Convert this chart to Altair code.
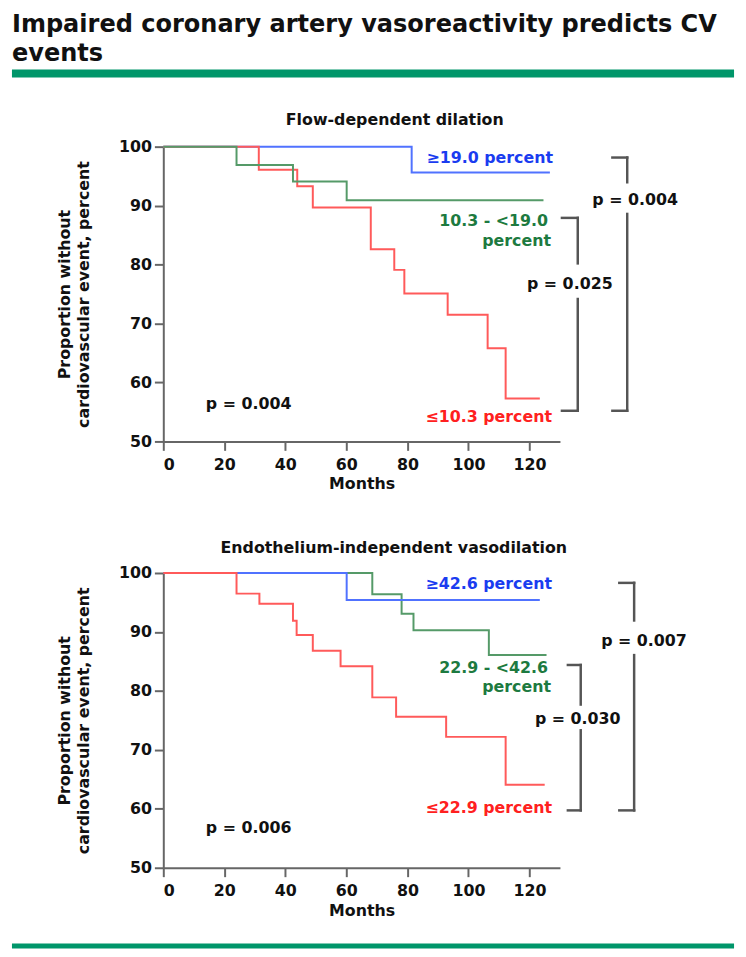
import altair as alt
import pandas as pd

# ---------------- data ----------------
MONTH_TICKS = [0, 20, 40, 60, 80, 100, 120]
PCT_TICKS = [50, 60, 70, 80, 90, 100]

GROUPS_FDD = ["≥19.0 percent", "10.3 - <19.0 percent", "≤10.3 percent"]
GROUPS_EIV = ["≥42.6 percent", "22.9 - <42.6 percent", "≤22.9 percent"]

# Flow-dependent dilation
FDD_HIGH_T = [0, 81.4, 126.7]
FDD_HIGH_S = [100, 95.6, 95.6]
FDD_MID_T = [0, 24.0, 42.5, 60.1, 124.6]
FDD_MID_S = [100, 96.9, 94.1, 90.9, 90.9]
FDD_LOW_T = [0, 31.3, 43.9, 49.0, 68.0, 75.7, 79.0, 93.2, 106.3, 112.2, 123.4]
FDD_LOW_S = [100, 96.1, 93.3, 89.7, 82.6, 79.1, 75.1, 71.5, 65.8, 57.3, 57.3]

# Endothelium-independent vasodilation
EIV_HIGH_T = [0, 60.1, 123.4]
EIV_HIGH_S = [100, 95.4, 95.4]
EIV_MID_T = [0, 68.5, 78.1, 82.0, 106.7, 125.6]
EIV_MID_S = [100, 96.4, 93.1, 90.3, 86.1, 86.1]
EIV_LOW_T = [0, 24.0, 31.5, 42.5, 43.7, 49.0, 58.1, 68.5, 76.3, 92.7, 112.2, 125.0]
EIV_LOW_S = [100, 96.5, 94.8, 91.9, 89.5, 86.8, 84.2, 78.9, 75.6, 72.2, 64.1, 64.1]

# ---------------- styles ----------------
LINE_COLORS = ["#5072ff", "#559a68", "#ff5a5a"]
TEXT_BLUE = "#1a3cf0"
TEXT_GREEN = "#1d7a40"
TEXT_RED = "#ff2020"
INK = "#111111"
BRACKET = "#555555"
GREEN_RULE = "#00966a"
FONT = "DejaVu Sans"
W, H = 401, 298

ONE = pd.DataFrame({"k": [0]})


def km_frame(groups, series, draw_order):
    rows = []
    for i in draw_order:
        ts, ss = series[i]
        for t, s in zip(ts, ss):
            rows.append({"month": t, "pct": s, "group": groups[i]})
    return pd.DataFrame(rows)


def txt(s, x, y, color=INK, align="left", size=16, baseline="middle"):
    return alt.Chart(ONE).mark_text(
        align=align, baseline=baseline, font=FONT, fontWeight="bold",
        fontSize=size, color=color
    ).encode(x=alt.value(x), y=alt.value(y), text=alt.value(s))


def seg(x1, x2, y1, y2, color=BRACKET, width=2.5, cap="square"):
    return alt.Chart(ONE).mark_rule(
        color=color, strokeWidth=width, strokeCap=cap
    ).encode(x=alt.value(x1), x2=alt.value(x2), y=alt.value(y1), y2=alt.value(y2))


def bracket(xl, xr, ytop, ygap1, ygap2, ybot):
    return [
        seg(xl, xr, ytop, ytop),
        seg(xr, xr, ytop, ygap1),
        seg(xr, xr, ygap2, ybot),
        seg(xl, xr, ybot, ybot),
    ]


def km_layer(groups, series, draw_order):
    df = km_frame(groups, series, draw_order)
    return alt.Chart(df).mark_line(interpolate="step-after", strokeWidth=2).encode(
        x=alt.X("month:Q", scale=alt.Scale(domain=[0, 130], nice=False),
                axis=alt.Axis(values=MONTH_TICKS, title="Months", format="d",
                              labelPadding=6, titlePadding=4)),
        y=alt.Y("pct:Q", scale=alt.Scale(domain=[50, 100], nice=False),
                axis=alt.Axis(values=PCT_TICKS,
                              title=["Proportion without", "cardiovascular event, percent"],
                              titlePadding=27, titleLineHeight=19)),
        color=alt.Color("group:N", scale=alt.Scale(domain=groups, range=LINE_COLORS),
                        legend=None),
    )


# ---------------- top panel ----------------
top_layers = [
    km_layer(GROUPS_FDD, [(FDD_HIGH_T, FDD_HIGH_S), (FDD_MID_T, FDD_MID_S),
                          (FDD_LOW_T, FDD_LOW_S)], [0, 2, 1]),
    # page header
    txt("Impaired coronary artery vasoreactivity predicts CV", -153, -116,
        size=24.3, baseline="alphabetic"),
    txt("events", -153, -86.5, size=24.3, baseline="alphabetic"),
    seg(-153, 577, -74, -74, color=GREEN_RULE, width=8, cap="butt"),
    # panel title
    txt("Flow-dependent dilation", 234, -22, align="center", baseline="alphabetic"),
    # group labels
    txt("≥19.0 percent", 394, 12, color=TEXT_BLUE, align="right"),
    txt("10.3 - <19.0", 389, 75, color=TEXT_GREEN, align="right"),
    txt("percent", 392, 95, color=TEXT_GREEN, align="right"),
    txt("≤10.3 percent", 393, 273, color=TEXT_RED, align="right"),
    txt("p = 0.004", 43, 260),
    txt("p = 0.025", 411, 139, align="center"),
    txt("p = 0.004", 477, 54, align="center"),
] + bracket(454, 469, 11, 36, 68, 267) + bracket(403, 419, 72, 118, 154, 267)

top = alt.layer(*top_layers).properties(width=W, height=H)

# ---------------- bottom panel ----------------
bot_layers = [
    km_layer(GROUPS_EIV, [(EIV_HIGH_T, EIV_HIGH_S), (EIV_MID_T, EIV_MID_S),
                          (EIV_LOW_T, EIV_LOW_S)], [1, 0, 2]),
    txt("Endothelium-independent vasodilation", 233, -20, align="center",
        baseline="alphabetic"),
    txt("≥42.6 percent", 393, 11, color=TEXT_BLUE, align="right"),
    txt("22.9 - <42.6", 389, 96, color=TEXT_GREEN, align="right"),
    txt("percent", 392, 115, color=TEXT_GREEN, align="right"),
    txt("≤22.9 percent", 393, 238, color=TEXT_RED, align="right"),
    txt("p = 0.006", 43, 258),
    txt("p = 0.030", 419, 148, align="center"),
    txt("p = 0.007", 486, 69, align="center"),
    seg(-153, 577, 377, 377, color=GREEN_RULE, width=5, cap="butt"),
] + bracket(461, 476, 10, 48, 83, 240) + bracket(409, 422, 93, 133, 159, 240)

bottom = alt.layer(*bot_layers).properties(width=W, height=H)

chart = alt.vconcat(top, bottom, spacing=49).properties(padding=0).configure_view(
    strokeWidth=0
).configure_axis(
    grid=False, domainColor="#666666", domainWidth=2, tickColor="#666666",
    tickWidth=2, tickSize=9, labelFont=FONT, labelFontWeight="bold",
    labelFontSize=16, labelColor=INK, labelPadding=3, titleFont=FONT,
    titleFontWeight="bold", titleFontSize=16, titleColor=INK
)

chart.save("out.html", embed_options={"renderer": "svg", "actions": False})
